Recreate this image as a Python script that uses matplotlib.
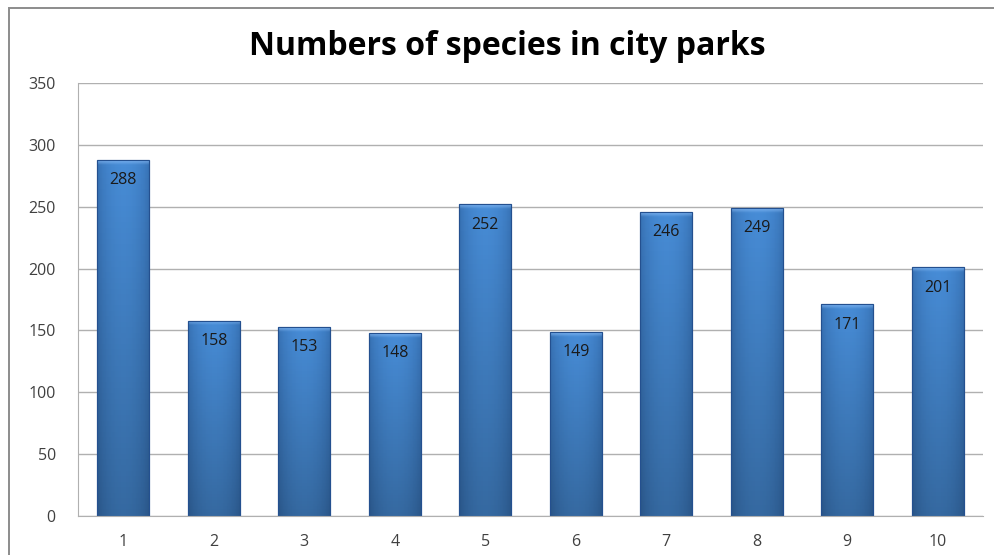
import matplotlib.pyplot as plt
import numpy as np
from matplotlib.patches import Rectangle

parks = ["1", "2", "3", "4", "5", "6", "7", "8", "9", "10"]
species = [288, 158, 153, 148, 252, 149, 246, 249, 171, 201]
y_ticks = [0, 50, 100, 150, 200, 250, 300, 350]

TEXT = "#404040"
GRID = "#b0b0b0"

plt.rcParams["font.family"] = ["Open Sans", "DejaVu Sans"]

fig = plt.figure(figsize=(9.95, 5.55), dpi=100)
ax = fig.add_axes([0.0784, 0.0703, 0.9096, 0.7802])

# outer chart frame
fig.patches.append(Rectangle((9 / 995, -0.1), 1.2, 1.1 - 8 / 555, transform=fig.transFigure,
                             fill=False, edgecolor="#8c8c8c", linewidth=1.4))

x = np.arange(1, len(parks) + 1)
bars = ax.bar(x, species, width=0.575, color="#3a72bd", edgecolor="#24508f", linewidth=0.8, zorder=2)

# horizontal shading across each bar: dark edges, lighter middle
u = np.linspace(0, 1, 64)
shade = 0.55 + 0.45 * np.sin(np.pi * u) ** 0.6
cols = np.zeros((1, len(u), 3))
cols[0, :, 0] = 0.12 + 0.16 * shade
cols[0, :, 1] = 0.28 + 0.27 * shade
cols[0, :, 2] = 0.50 + 0.34 * shade
for b in bars:
    x0, w, h = b.get_x(), b.get_width(), b.get_height()
    im = ax.imshow(cols, extent=(x0, x0 + w, 0, h), aspect="auto", zorder=2.1, interpolation="bilinear")
    im.set_clip_path(b)
    # slight darkening toward the bottom
    v = np.linspace(0, 1, 64)[:, None]
    dark = np.zeros((64, 1, 4))
    dark[..., 3] = 0.25 * (1 - v[:, 0:1])
    dk = ax.imshow(dark, extent=(x0, x0 + w, 0, h), origin="lower", aspect="auto", zorder=2.2,
                   interpolation="bilinear")
    dk.set_clip_path(b)
    # soft bevel at the top
    top = np.zeros((16, 1, 4))
    top[..., 0], top[..., 1], top[..., 2] = 0.55, 0.75, 0.98
    top[..., 3] = np.linspace(0.0, 0.75, 16)[:, None]
    tp = ax.imshow(top, extent=(x0, x0 + w, h - 4, h), origin="lower", aspect="auto", zorder=2.3,
                   interpolation="bilinear")
    tp.set_clip_path(b)
    ax.add_patch(Rectangle((x0, 0), w, h, fill=False, edgecolor="#24508f", linewidth=0.8, zorder=2.4))

for xi, v in zip(x, species):
    ax.text(xi, v - 10, str(v), ha="center", va="top", fontsize=11.5, color="#1a1a1a", zorder=3)

ax.set_xlim(0.5, len(parks) + 0.5)
ax.set_ylim(0, 350)
ax.set_yticks(y_ticks)
ax.set_xticks(x)
ax.set_xticklabels(parks)
ax.tick_params(axis="both", length=0, labelsize=11.5, colors=TEXT)
ax.tick_params(axis="y", pad=16)
ax.tick_params(axis="x", pad=13)
ax.grid(axis="y", color=GRID, linewidth=1.0, zorder=0)
ax.set_axisbelow(True)
for s in ["top", "right"]:
    ax.spines[s].set_visible(False)
ax.spines["left"].set_color(GRID)
ax.spines["bottom"].set_color(GRID)

fig.text(0.510, 0.916, "Numbers of species in city parks", ha="center", va="center",
         fontsize=23, fontweight="bold", color="#000000")

fig.savefig("out.png", dpi=100)
